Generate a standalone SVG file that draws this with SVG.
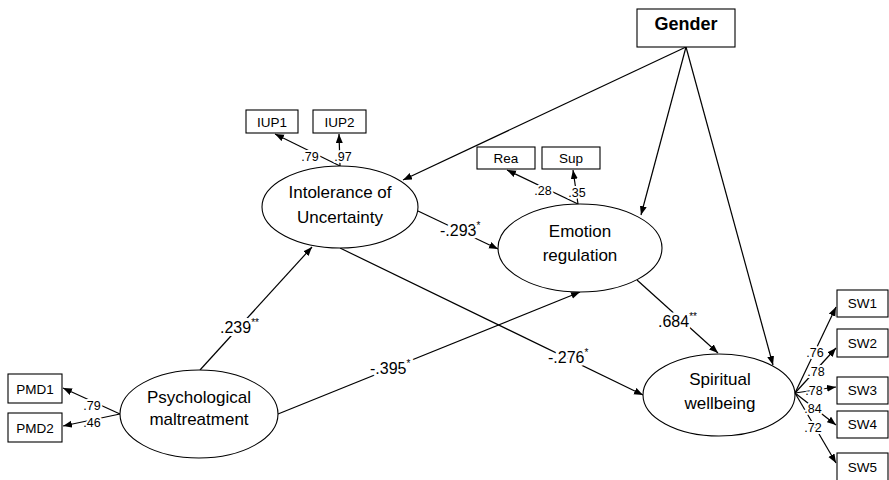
<svg xmlns="http://www.w3.org/2000/svg" width="889" height="480" viewBox="0 0 889 480">
<defs>
<marker id="ah" markerUnits="userSpaceOnUse" markerWidth="10" markerHeight="8" refX="9" refY="3.5" orient="auto">
<path d="M0,0 L9,3.5 L0,7 z" fill="#000"/>
</marker>
<style>
.edge{stroke:#000;stroke-width:1.2;fill:none;marker-end:url(#ah)}
.box{fill:#fff;stroke:#000;stroke-width:1.1}
.ell{fill:#fff;stroke:#000;stroke-width:1.1}
text{font-family:"Liberation Sans",Arial,sans-serif;fill:#000}
.lat{font-size:17px;text-anchor:middle}
.ind{font-size:13.5px;text-anchor:middle}
.coef{font-size:16px;stroke:#fff;stroke-width:6;paint-order:stroke;stroke-linejoin:round}
.ld{font-size:12.5px;text-anchor:middle;stroke:#fff;stroke-width:4;paint-order:stroke;stroke-linejoin:round}
.sup{font-size:10px}
</style>
</defs>
<rect width="889" height="480" fill="#fff"/>
<g id="connectors">
<line class="edge" x1="686" y1="47" x2="403" y2="180"/>
<line class="edge" x1="686" y1="47" x2="641" y2="215"/>
<line class="edge" x1="686" y1="47" x2="773" y2="365"/>
<line class="edge" x1="418" y1="211" x2="498" y2="249"/>
<line class="edge" x1="340" y1="248" x2="643" y2="395"/>
<line class="edge" x1="200" y1="370" x2="312" y2="247"/>
<line class="edge" x1="278" y1="414" x2="580" y2="292"/>
<line class="edge" x1="637" y1="280" x2="718" y2="353"/>
<line class="edge" x1="340" y1="166" x2="275" y2="134"/>
<line class="edge" x1="340" y1="166" x2="339" y2="134"/>
<line class="edge" x1="578" y1="204" x2="507" y2="170"/>
<line class="edge" x1="578" y1="204" x2="573" y2="170"/>
<line class="edge" x1="120" y1="414" x2="63" y2="388"/>
<line class="edge" x1="120" y1="414" x2="63" y2="426"/>
<line class="edge" x1="795" y1="393" x2="836" y2="307"/>
<line class="edge" x1="795" y1="393" x2="836" y2="348"/>
<line class="edge" x1="795" y1="393" x2="836" y2="387"/>
<line class="edge" x1="795" y1="393" x2="836" y2="425"/>
<line class="edge" x1="795" y1="393" x2="836" y2="463"/>
</g>
<g id="gender">
<rect class="box" x="637" y="9" width="98" height="38"/>
<text x="686" y="30" font-size="18" font-weight="bold" text-anchor="middle">Gender</text>
</g>
<g id="iu">
<ellipse class="ell" cx="340" cy="207" rx="78" ry="41"/>
<text class="lat" x="340" y="198">Intolerance of</text>
<text class="lat" x="340" y="223">Uncertainty</text>
</g>
<g id="er">
<ellipse class="ell" cx="580" cy="248" rx="82" ry="44"/>
<text class="lat" x="580" y="237">Emotion</text>
<text class="lat" x="580" y="261">regulation</text>
</g>
<g id="sw">
<ellipse class="ell" cx="719" cy="395" rx="76" ry="41"/>
<text class="lat" x="720" y="385">Spiritual</text>
<text class="lat" x="720" y="409">wellbeing</text>
</g>
<g id="pm">
<ellipse class="ell" cx="199" cy="414" rx="79" ry="44"/>
<text class="lat" x="199" y="403">Psychological</text>
<text class="lat" x="199" y="425">maltreatment</text>
</g>
<g id="iup1"><rect class="box" x="246" y="110" width="52" height="23"/><text class="ind" x="272" y="126.5">IUP1</text></g>
<g id="iup2"><rect class="box" x="313" y="110" width="53" height="23"/><text class="ind" x="339.5" y="126.5">IUP2</text></g>
<g id="rea"><rect class="box" x="477" y="147" width="58" height="22"/><text class="ind" x="506" y="162.5" font-size="13">Rea</text></g>
<g id="sup"><rect class="box" x="542" y="147" width="58" height="22"/><text class="ind" x="571" y="162.5" font-size="13">Sup</text></g>
<g id="pmd1"><rect class="box" x="8" y="374" width="54" height="29"/><text class="ind" x="35" y="393.5" font-size="14">PMD1</text></g>
<g id="pmd2"><rect class="box" x="8" y="413" width="54" height="29"/><text class="ind" x="35" y="432.5" font-size="14">PMD2</text></g>
<g id="sw1"><rect class="box" x="837" y="290" width="51" height="27"/><text class="ind" x="862.5" y="308">SW1</text></g>
<g id="sw2"><rect class="box" x="837" y="329" width="51" height="28"/><text class="ind" x="862.5" y="347.5">SW2</text></g>
<g id="sw3"><rect class="box" x="837" y="377" width="51" height="27"/><text class="ind" x="862.5" y="395">SW3</text></g>
<g id="sw4"><rect class="box" x="837" y="411" width="51" height="27"/><text class="ind" x="862.5" y="429">SW4</text></g>
<g id="sw5"><rect class="box" x="837" y="453" width="51" height="28"/><text class="ind" x="862.5" y="471.5">SW5</text></g>
<g id="labels">
<text class="coef" x="220" y="333">.239<tspan class="sup" dy="-7">**</tspan></text>
<text class="coef" x="440" y="236">-.293<tspan class="sup" dy="-7">*</tspan></text>
<text class="coef" x="370" y="374">-.395<tspan class="sup" dy="-7">*</tspan></text>
<text class="coef" x="548" y="363">-.276<tspan class="sup" dy="-7">*</tspan></text>
<text class="coef" x="658" y="327">.684<tspan class="sup" dy="-7">**</tspan></text>
<text class="ld" x="310" y="160.5">.79</text>
<text class="ld" x="343" y="160.5">.97</text>
<text class="ld" x="543" y="194.5">.28</text>
<text class="ld" x="577" y="196.5">.35</text>
<text class="ld" x="92" y="409.5">.79</text>
<text class="ld" x="92" y="426.5">.46</text>
<text class="ld" x="815" y="357">.76</text>
<text class="ld" x="816" y="376">.78</text>
<text class="ld" x="814" y="395">.78</text>
<text class="ld" x="813" y="413">.84</text>
<text class="ld" x="813" y="432">.72</text>
</g>
</svg>
